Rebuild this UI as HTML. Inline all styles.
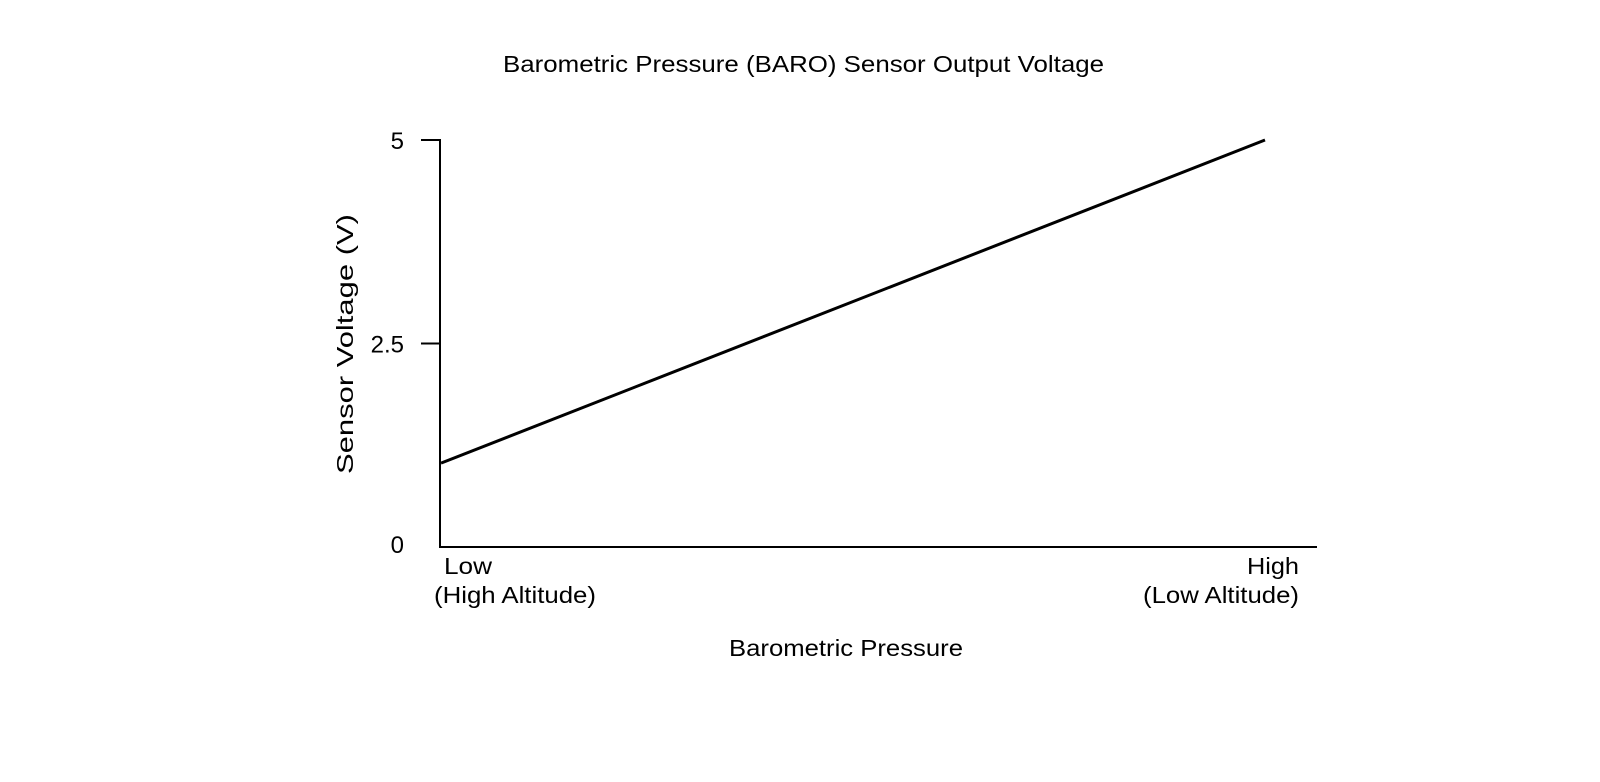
<!DOCTYPE html>
<html><head><meta charset="utf-8"><style>
html,body{margin:0;padding:0;background:#fff;}
svg{display:block;font-family:"Liberation Sans",Arial,sans-serif;}
</style></head><body>
<svg id="chart" width="1600" height="782" viewBox="0 0 1600 782">
<text x="503" y="72" font-size="23" textLength="601" lengthAdjust="spacingAndGlyphs">Barometric Pressure (BARO) Sensor Output Voltage</text>
<g id="yticks"></g>
<line x1="440" y1="139" x2="440" y2="547" stroke="#000" stroke-width="2"/>
<line x1="439" y1="547" x2="1317" y2="547" stroke="#000" stroke-width="2"/>
<polyline id="series" fill="none" stroke="#000" stroke-width="3"/>
<text x="444" y="574" font-size="23" textLength="48" lengthAdjust="spacingAndGlyphs">Low</text>
<text x="434" y="603" font-size="23" textLength="162" lengthAdjust="spacingAndGlyphs">(High Altitude)</text>
<text x="1247" y="574" font-size="23" textLength="52" lengthAdjust="spacingAndGlyphs">High</text>
<text x="1143" y="603" font-size="23" textLength="156" lengthAdjust="spacingAndGlyphs">(Low Altitude)</text>
<text x="729" y="656" font-size="23" textLength="234" lengthAdjust="spacingAndGlyphs">Barometric Pressure</text>
<text transform="translate(353,474) rotate(-90)" font-size="23" textLength="260" lengthAdjust="spacingAndGlyphs">Sensor Voltage (V)</text>
</svg>
<script>
const xCategories = [0, 1];
const voltages = [1.03, 5.0];
const yTicks = [0, 2.5, 5];
const yTickLabels = ["0", "2.5", "5"];
const NS = "http://www.w3.org/2000/svg";
function xScale(v){ return 441 + (1265 - 441) * v; }
function yScale(v){ return 547 - (547 - 140) * v / 5; }
const pts = xCategories.map((c,i)=> xScale(c)+","+yScale(voltages[i])).join(" ");
document.getElementById("series").setAttribute("points", pts);
const g = document.getElementById("yticks");
yTicks.forEach((t,i)=>{
  const y = yScale(t);
  if (t !== 0) {
    const l = document.createElementNS(NS,"line");
    l.setAttribute("x1",421); l.setAttribute("x2",440);
    l.setAttribute("y1",y); l.setAttribute("y2",y);
    l.setAttribute("stroke","#000"); l.setAttribute("stroke-width","2");
    
    
    g.appendChild(l);
  }
  const tx = document.createElementNS(NS,"text");
  tx.setAttribute("x",404); tx.setAttribute("y", t===0 ? y+6 : y+9);
  tx.setAttribute("font-size","24"); tx.setAttribute("text-anchor","end");
  tx.textContent = yTickLabels[i];
  
  
  g.appendChild(tx);
});
</script>
</body></html>
